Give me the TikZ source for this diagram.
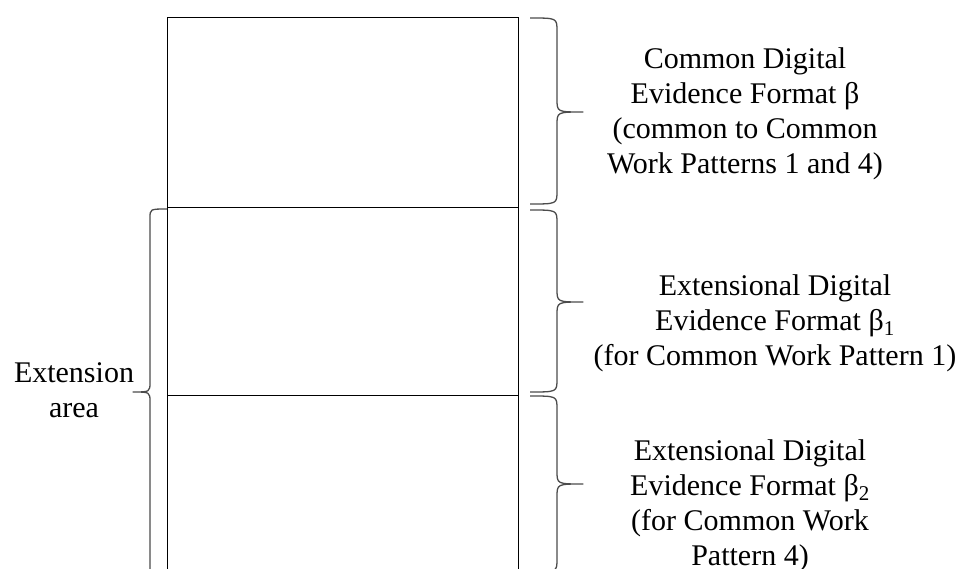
\documentclass[tikz,border=0pt]{standalone}
\usepackage{fontspec}
\setmainfont{Liberation Serif}
\begin{document}
\begin{tikzpicture}[x=1pt,y=-1pt,
  frame/.style={draw=black, line width=1pt},
  curly/.style={draw=black!70, line width=1.3pt, line join=round},
  lbl/.style={align=center, inner sep=0pt, anchor=base, text=black,
              font=\fontsize{30}{35}\selectfont}]
\useasboundingbox (0,0) rectangle (961,569);
\begin{scope}
\clip (0,0) rectangle (961,569);
% stacked format block (open at the bottom)
\draw[frame] (167,600) -- (167,18) -- (518,18) -- (518,600);
\draw[frame] (167,208) -- (518,208);
\draw[frame] (167,395) -- (518,395);
% right-hand braces
\draw[curly] (530,18) .. controls (557,18) .. (557,31) -- (557,99)
  .. controls (557,112) .. (583,112) .. controls (557,112) .. (557,125)
  -- (557,191) .. controls (557,204) .. (530,204);
\draw[curly] (530,210) .. controls (557,210) .. (557,223) -- (557,289)
  .. controls (557,302) .. (583,302) .. controls (557,302) .. (557,315)
  -- (557,379) .. controls (557,392) .. (530,392);
\draw[curly] (530,396) .. controls (557,396) .. (557,409) -- (557,471)
  .. controls (557,484) .. (583,484) .. controls (557,484) .. (557,497)
  -- (557,559) .. controls (557,572) .. (530,572);
% left brace for the extension area
\draw[curly] (167,209) .. controls (150,209) .. (150,218) -- (150,382)
  .. controls (150,392) .. (133,392) .. controls (150,392) .. (150,402)
  -- (150,600);
% labels (placed by the baseline of their last line)
\node[lbl] (fmtb) at (745,174) {Common Digital\\Evidence Format β\\(common to Common\\Work Patterns 1 and 4)};
\node[lbl] (fmtbone) at (775,365) {Extensional Digital\\Evidence Format β\textsubscript{1}\\(for Common Work Pattern 1)};
\node[lbl] (fmtbtwo) at (750,565) {Extensional Digital\\Evidence Format β\textsubscript{2}\\(for Common Work\\Pattern 4)};
\node[lbl] (ext) at (74,417) {Extension\\area};
\end{scope}
\end{tikzpicture}
\end{document}
